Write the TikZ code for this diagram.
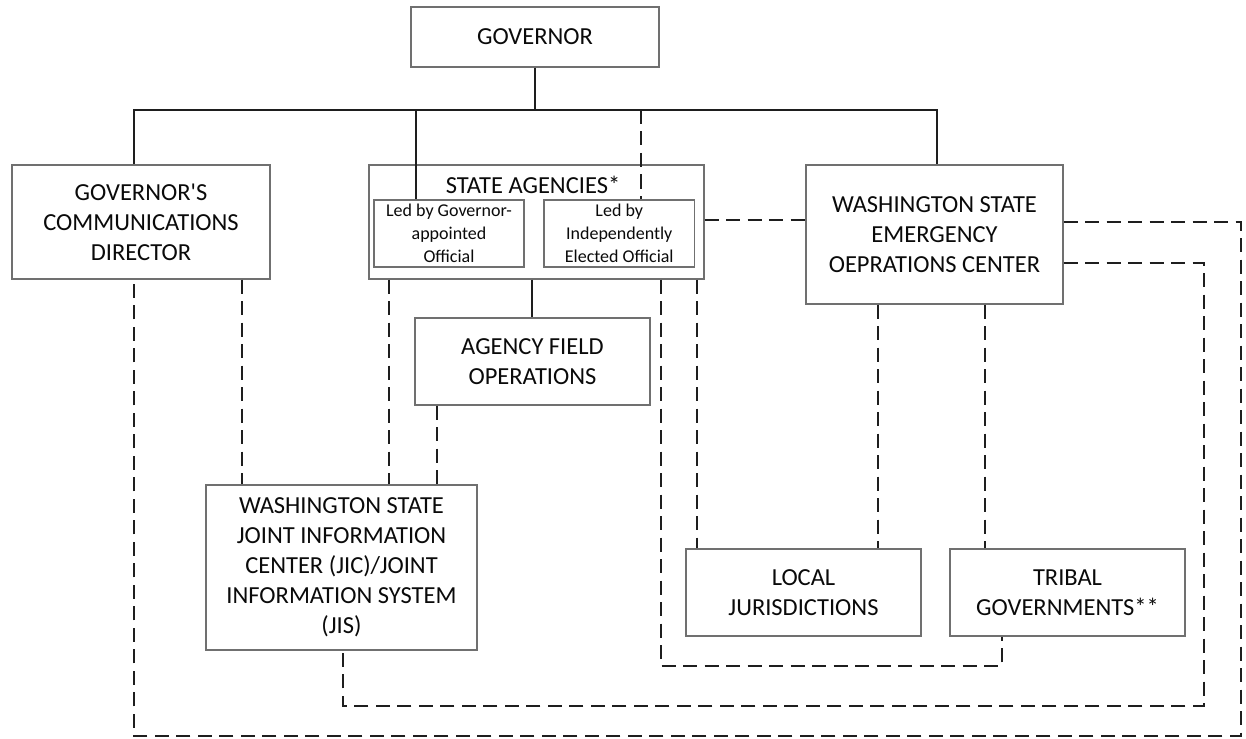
\documentclass[tikz,border=0pt]{standalone}
\usepackage{fontspec}
\setmainfont{Carlito}
\definecolor{boxgray}{RGB}{112,112,112}
\definecolor{lin}{RGB}{30,30,30}
\definecolor{txt}{RGB}{10,10,10}
\begin{document}
\begin{tikzpicture}[x=1pt,y=-1pt,
  box/.style={draw=boxgray, line width=1.4pt, rectangle, inner sep=0pt, align=center, text=txt, font=\fontsize{24.5}{30}\selectfont},
  smallbox/.style={box, font=\fontsize{18}{22.7}\selectfont},
  conn/.style={draw=lin, line width=2pt},
  dconn/.style={draw=lin, line width=2pt, dash pattern=on 14pt off 7.5pt}]
\path[fill=white] (0,0) rectangle (1246,738);
\useasboundingbox (0,0) rectangle (1246,738);

% boxes
\node[box, minimum width=248pt, minimum height=60pt] (gov) at (535,37) {GOVERNOR};
\node[box, minimum width=258pt, minimum height=114pt] (gcd) at (141,222) {GOVERNOR\textquotesingle S\\COMMUNICATIONS\\DIRECTOR};
\node[box, minimum width=335pt, minimum height=114pt] (sa) at (536.5,222) {};
\node[text=txt, inner sep=0pt, font=\fontsize{24.5}{30}\selectfont] (satitle) at (533,185) {STATE AGENCIES*};
\node[smallbox, minimum width=150pt, minimum height=67pt] (inL) at (449,233.5) {Led by Governor-\\appointed\\Official};
\node[smallbox, minimum width=150.5pt, minimum height=67pt] (inR) at (619.25,233.5) {Led by\\Independently\\Elected Official};
\node[box, minimum width=235pt, minimum height=87pt] (afo) at (532.5,361.5) {AGENCY FIELD\\OPERATIONS};
\node[box, minimum width=257pt, minimum height=139pt] (eoc) at (934.5,234.5) {WASHINGTON STATE\\EMERGENCY\\OEPRATIONS CENTER};
\node[box, minimum width=271pt, minimum height=165pt] (jic) at (341.5,567.5) {WASHINGTON STATE\\JOINT INFORMATION\\CENTER (JIC)/JOINT\\INFORMATION SYSTEM\\(JIS)};
\node[box, minimum width=235pt, minimum height=87pt] (loc) at (803.5,592.5) {LOCAL\\JURISDICTIONS};
\node[box, minimum width=235pt, minimum height=87pt] (trib) at (1067.5,592.5) {TRIBAL\\GOVERNMENTS**};

% junction coordinates
\coordinate (hl) at (133.5,110);
\coordinate (hr) at (937,110);
\coordinate (c1) at (661,666);
\coordinate (c2) at (1002,666);
\coordinate (c3) at (1204,263);
\coordinate (c4) at (1204,706);
\coordinate (c5) at (343,706);
\coordinate (c6) at (1241,222);
\coordinate (c7) at (1241,735.5);
\coordinate (c8) at (133.5,735.5);

% solid connectors
\draw[conn] (gov.south) -- (gov.south |- hl);
\draw[conn] (gcd.north -| hl) -- (hl) -- (hr) -- (eoc.north -| hr);
\draw[conn] (hl -| 416,0) -- (inL.north -| 416,0);
\draw[conn] (sa.south -| 532,0) -- (afo.north -| 532,0);

% dashed connectors
\draw[dconn] (hl -| 641,0) -- (inR.north -| 641,0);
\draw[dconn] (sa.east |- 0,220) -- (eoc.west |- 0,220);
\draw[dconn] (gcd.south -| 242,0) -- (jic.north -| 242,0);
\draw[dconn] (sa.south -| 389,0) -- (jic.north -| 389,0);
\draw[dconn] (afo.south -| 437,0) -- (jic.north -| 437,0);
\draw[dconn] (sa.south -| c1) -- (c1) -- (c2) -- (trib.south -| c2);
\draw[dconn] (sa.south -| 696.5,0) -- (loc.north -| 696.5,0);
\draw[dconn] (eoc.south -| 878,0) -- (loc.north -| 878,0);
\draw[dconn] (eoc.south -| 985,0) -- (trib.north -| 985,0);
\draw[dconn] (eoc.east |- c3) -- (c3) -- (c4) -- (c5) -- (jic.south -| c5);
\draw[dconn] (eoc.east |- c6) -- (c6) -- (c7) -- (c8) -- (gcd.south -| c8);
\end{tikzpicture}
\end{document}
